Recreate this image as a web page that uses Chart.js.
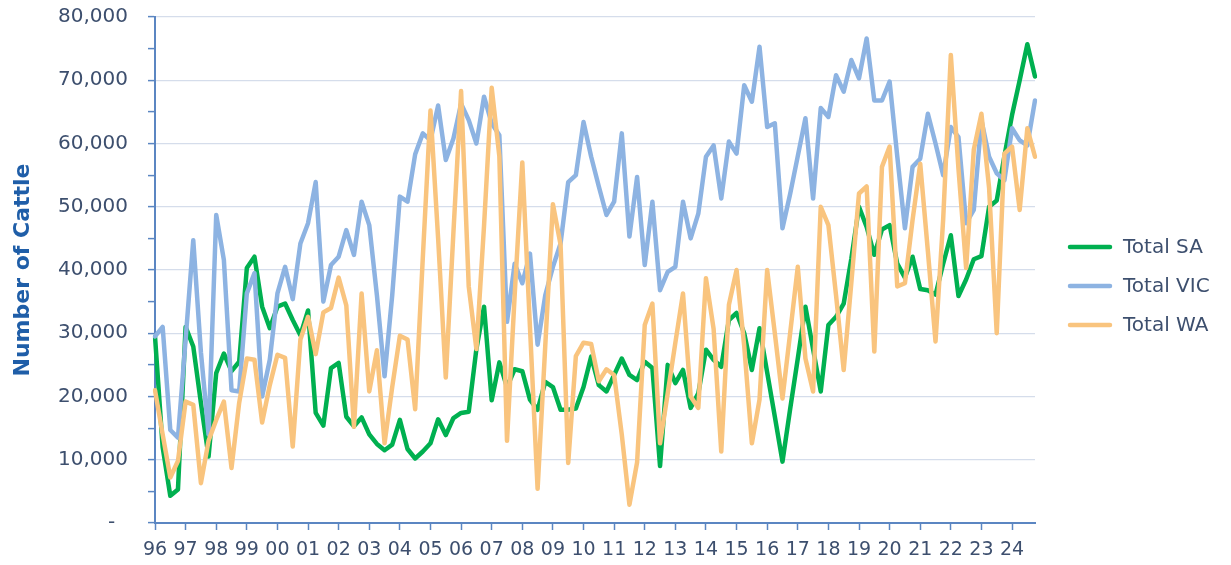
<!DOCTYPE html>
<html>
<head>
<meta charset="utf-8">
<script src="https://cdn.jsdelivr.net/npm/chart.js@4.4.0/dist/chart.umd.min.js"></script>
<style>
html,body{margin:0;padding:0;background:#ffffff;}
#wrap{width:1231px;height:565px;position:relative;}
</style>
</head>
<body>
<div id="wrap"><canvas id="c" width="1231" height="565"></canvas></div>
<script>
// Year tick labels (one per year, at Q1)
const yearLabels = ['96','97','98','99','00','01','02','03','04','05','06','07','08','09','10',
                    '11','12','13','14','15','16','17','18','19','20','21','22','23','24'];
const quarterNames = ['Q1','Q2','Q3','Q4'];
// Quarterly categories
const quarterCategories = yearLabels.flatMap(y => quarterNames.map(q => y + ' ' + q));

const totalSA = [
  29500, 12000, 4300, 5300, 31000, 27900, 19000, 10500, 23700, 26800,
  24000, 25500, 40300, 42100, 34200, 30800, 34200, 34700, 32100, 29700,
  33600, 17400, 15400, 24500, 25300, 16800, 15300, 16700, 14000, 12500,
  11500, 12400, 16300, 11700, 10200, 11300, 12600, 16400, 13900, 16600,
  17400, 17600, 27500, 34200, 19400, 25400, 21500, 24300, 24000, 19500,
  17900, 22300, 21500, 17900, 17900, 18100, 21500, 26300, 21800, 20800,
  23400, 26000, 23400, 22600, 25500, 24500, 9000, 25000, 22100, 24200,
  18200, 20500, 27400, 25800, 24700, 32100, 33200, 30000, 24200, 30800,
  23800, 16800, 9700, 18000, 26000, 34200, 27500, 20800, 31300, 32600,
  34700, 41800, 50000, 46800, 42400, 46400, 47100, 41000, 38800, 42100,
  37000, 36800, 36100, 41000, 45500, 35900, 38500, 41700, 42200, 50000,
  51000, 58000, 64500, 70000, 75700, 70600
];
const totalVIC = [
  29500, 31000, 14700, 13500, 29000, 44700, 27000, 14000, 48700, 41600,
  21000, 20800, 36300, 39500, 20000, 25800, 36300, 40500, 35400, 44200,
  47400, 53900, 35000, 40800, 42100, 46300, 42400, 50800, 47100, 36000,
  23200, 36000, 51600, 50800, 58300, 61600, 60500, 66000, 57400, 60800,
  66300, 63700, 60000, 67400, 63200, 61300, 31800, 41000, 37900, 42600,
  28200, 36000, 40500, 44200, 53900, 55000, 63400, 57900, 53200, 48700,
  50800, 61600, 45300, 54700, 40800, 50800, 36800, 39700, 40500, 50800,
  45000, 48900, 57900, 59700, 51300, 60300, 58400, 69200, 66600, 75300,
  62600, 63200, 46600, 52000, 58000, 64000, 51300, 65600, 64200, 70800,
  68200, 73200, 70300, 76600, 66800, 66800, 69800, 58000, 46600, 56300,
  57600, 64700, 60000, 55000, 62600, 61000, 47400, 49500, 63700, 57900,
  55300, 54200, 62400, 60500, 59700, 66800
];
const totalWA = [
  21000, 14000, 7200, 9800, 19200, 18700, 6300, 13000, 16300, 19200,
  8700, 19000, 26000, 25800, 15900, 21800, 26600, 26100, 12100, 29000,
  32600, 26700, 33300, 34000, 38800, 34400, 15200, 36300, 20800, 27300,
  12600, 21500, 29600, 29000, 18000, 42000, 65200, 45000, 23000, 46000,
  68300, 37400, 27500, 47000, 68800, 58000, 13000, 36000, 57000, 31000,
  5400, 28000, 50400, 44000, 9500, 26400, 28500, 28300, 22400, 24300,
  23400, 14000, 2900, 9600, 31300, 34700, 12600, 20500, 28500, 36300,
  20000, 18200, 38700, 30700, 11300, 34500, 40000, 28000, 12600, 19500,
  40000, 30000, 19700, 30000, 40500, 26000, 20800, 50000, 47100, 36000,
  24200, 38000, 52100, 53200, 27100, 56300, 59500, 37400, 37900, 47900,
  56800, 43000, 28700, 48000, 74000, 56000, 40300, 59000, 64700, 53000,
  30000, 58400, 59500, 49500, 62400, 57900
];

const seriesNames = ['Total SA', 'Total VIC', 'Total WA'];
const seriesColors = ['#00B050', '#8DB3E2', '#F9C47E'];

const axisBlue = '#5B86C2';
const textColor = '#3D4F6E';
Chart.defaults.font.family = "'DejaVu Sans', sans-serif";

const sideLegend = {
  id: 'sideLegend',
  afterDraw(chart) {
    const ctx = chart.ctx;
    const ys = [247, 286, 325];
    chart.data.datasets.forEach((ds, i) => {
      ctx.save();
      ctx.strokeStyle = ds.borderColor;
      ctx.lineWidth = 4.5;
      ctx.lineCap = 'round';
      ctx.beginPath();
      ctx.moveTo(1070, ys[i]);
      ctx.lineTo(1110, ys[i]);
      ctx.stroke();
      ctx.fillStyle = textColor;
      ctx.font = "20px 'DejaVu Sans', sans-serif";
      ctx.textBaseline = 'middle';
      ctx.textAlign = 'left';
      ctx.fillText(ds.label, 1123, ys[i] + 1);
      ctx.restore();
    });
  }
};

new Chart(document.getElementById('c'), {
  type: 'line',
  data: {
    labels: quarterCategories,
    datasets: [
      { label: seriesNames[0], data: totalSA, borderColor: seriesColors[0], backgroundColor: seriesColors[0], order: 3 },
      { label: seriesNames[1], data: totalVIC, borderColor: seriesColors[1], backgroundColor: seriesColors[1], order: 2 },
      { label: seriesNames[2], data: totalWA, borderColor: seriesColors[2], backgroundColor: seriesColors[2], order: 1 }
    ]
  },
  options: {
    responsive: false,
    animation: false,
    devicePixelRatio: 1,
    layout: { padding: { top: 17, right: 196, bottom: 0, left: 0 } },
    elements: {
      point: { radius: 0, hoverRadius: 0 },
      line: { borderWidth: 4.5, tension: 0, borderJoinStyle: 'round', borderCapStyle: 'round', fill: false }
    },
    plugins: {
      legend: { display: false },
      tooltip: { enabled: false }
    },
    scales: {
      x: {
        type: 'category',
        offset: false,
        grid: { display: true, drawOnChartArea: false, drawTicks: true, tickLength: 7, tickColor: axisBlue, tickWidth: 1.5, color: 'rgba(0,0,0,0)' },
        border: { display: true, color: axisBlue, width: 2 },
        ticks: {
          autoSkip: false, maxRotation: 0, minRotation: 0, padding: 9,
          color: textColor, font: { size: 19 },
          callback: (value) => (value % 4 === 0 ? yearLabels[value / 4] : '')
        },
        afterBuildTicks: (scale) => { scale.ticks = scale.ticks.filter(t => t.value % 4 === 0); },
        afterFit: (scale) => { scale.height = 42; }
      },
      y: {
        min: 0, max: 80000,
        ticks: {
          stepSize: 5000, autoSkip: false, padding: 20,
          color: textColor, font: { size: 20 },
          callback: (v) => (v === 0 ? '-  ' : (v % 10000 === 0 ? v.toLocaleString('en-US') : ''))
        },
        grid: {
          color: (c) => (c.tick && c.tick.value % 10000 === 0 && c.tick.value !== 0) ? '#D5DDEB' : 'rgba(0,0,0,0)',
          lineWidth: 1.2,
          tickColor: axisBlue, tickLength: 7, tickWidth: 1.5
        },
        border: { display: true, color: axisBlue, width: 2 },
        title: {
          display: true, text: 'Number of Cattle', color: '#1F5EA8',
          font: { size: 22, weight: 'bold' }, padding: { top: 10, bottom: 0 }
        },
        afterFit: (scale) => { scale.width = 155; scale.paddingTop = 0; scale.paddingBottom = 0; }
      }
    }
  },
  plugins: [sideLegend]
});
</script>
</body>
</html>
